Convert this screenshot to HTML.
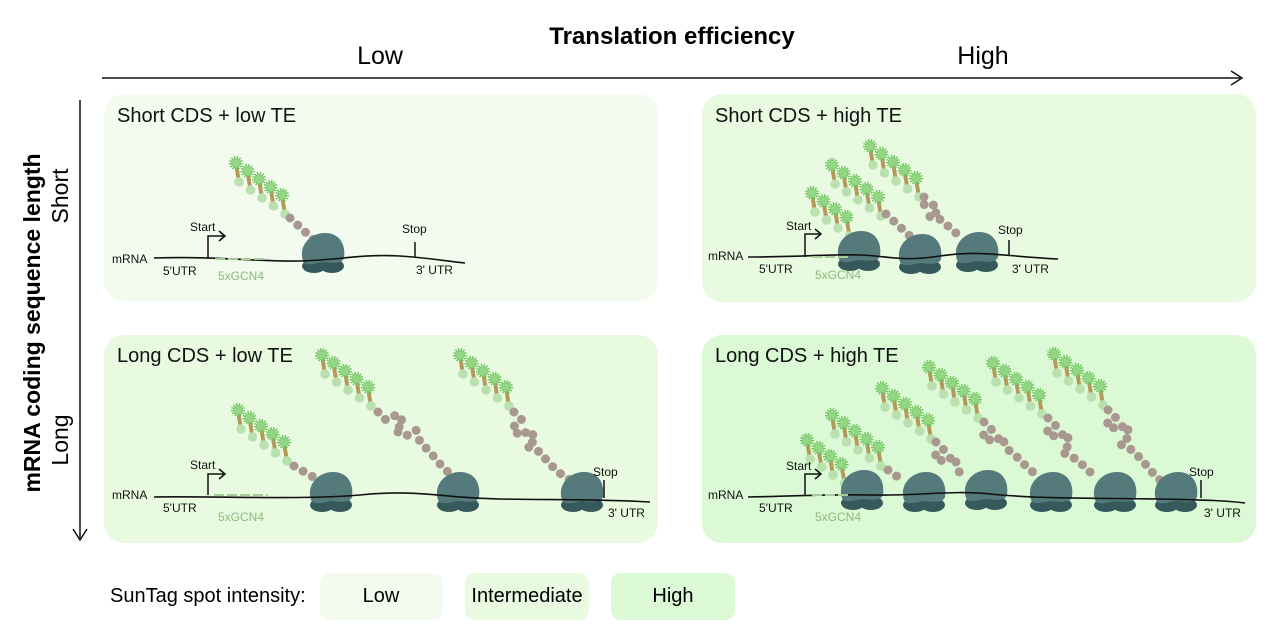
<!DOCTYPE html>
<html><head><meta charset="utf-8"><style>
html,body{margin:0;padding:0;background:#fff;}
svg{display:block;font-family:"Liberation Sans",sans-serif;}
</style></head><body>
<svg width="1267" height="641" viewBox="0 0 1267 641" xmlns="http://www.w3.org/2000/svg">
<defs>
<g id="u">
<path d="M-2,0 L-4.5,-15 L-0.5,-15 L2,0Z" fill="#b39a5c"/>
<circle cx="0" cy="0" r="4.8" fill="#b9e0ae"/>
<circle cx="-3" cy="-19" r="5" fill="#8fd480" stroke="#72c562" stroke-width="4" stroke-dasharray="1.2 1.2"/>
<circle cx="-3" cy="-19" r="4" fill="#93d684"/>
</g>
<g id="t5"><use href="#u"/><use href="#u" x="11.5" y="8"/><use href="#u" x="23" y="16"/><use href="#u" x="34.5" y="24"/><use href="#u" x="46" y="32"/></g>
<g id="t4"><use href="#u"/><use href="#u" x="11.5" y="8"/><use href="#u" x="23" y="16"/><use href="#u" x="34.5" y="24"/></g>
<g id="r">
<ellipse cx="-9" cy="11" rx="12" ry="7" fill="#365a5b"/>
<ellipse cx="9" cy="11" rx="12" ry="7" fill="#365a5b"/>
<path d="M-20,6 C-25,-10 -12,-22 2,-22 C17,-22 23,-10 21,3 C19,9 10,8 0,7 C-10,9 -18,11 -20,6Z" fill="#557a7b"/>
</g>
</defs>
<style>.g{fill:none;stroke:#a89890;stroke-width:9;stroke-linecap:round;stroke-dasharray:0 10.5}.m{fill:none;stroke:#111;stroke-width:1.6}.s{font-size:12px;fill:#111}.gc{font-size:12px;fill:#8bbb79}.ti{font-size:20px;fill:#111}</style>

<text x="672" y="44" text-anchor="middle" font-size="24" font-weight="bold">Translation efficiency</text>
<text x="380" y="64" text-anchor="middle" font-size="25">Low</text>
<text x="983" y="64" text-anchor="middle" font-size="25">High</text>
<line x1="102" y1="78" x2="1240" y2="78" stroke="#111" stroke-width="1.5"/>
<path d="M1231,71 L1242,78 L1231,85" fill="none" stroke="#111" stroke-width="1.5"/>
<line x1="80" y1="100" x2="80" y2="538" stroke="#111" stroke-width="1.5"/>
<path d="M73,529 L80,540 L87,529" fill="none" stroke="#111" stroke-width="1.5"/>
<text transform="translate(40,323) rotate(-90)" text-anchor="middle" font-size="23" font-weight="bold">mRNA coding sequence length</text>
<text transform="translate(68,196) rotate(-90)" text-anchor="middle" font-size="23">Short</text>
<text transform="translate(68,440) rotate(-90)" text-anchor="middle" font-size="23">Long</text>

<rect x="104" y="94" width="554" height="207" rx="20" fill="#f3fbef"/>
<rect x="702" y="94" width="554" height="208" rx="20" fill="#e8fbe1"/>
<rect x="104" y="335" width="554" height="208" rx="20" fill="#e8fbe1"/>
<rect x="702" y="335" width="554" height="208" rx="20" fill="#dbf9d4"/>
<text x="117" y="122" class="ti">Short CDS + low TE</text>
<text x="715" y="122" class="ti">Short CDS + high TE</text>
<text x="117" y="362" class="ti">Long CDS + low TE</text>
<text x="715" y="362" class="ti">Long CDS + high TE</text>

<!-- TL -->
<use href="#t5" x="239" y="182"/>
<polyline class="g" points="290,218 314,240"/>
<use href="#r" x="323" y="255"/>
<path class="m" d="M154,258 C220,256 260,262 300,261 C340,260 360,254 400,256 C430,258 445,261 465,263"/>
<path d="M215,259 L268,259" stroke="#a6cc98" stroke-width="2" stroke-dasharray="10 3" fill="none"/>
<path d="M208,258 V236 H224 M219,231 L225,236 L219,241" fill="none" stroke="#111" stroke-width="1.5"/>
<line x1="415" y1="242" x2="415" y2="257" stroke="#111" stroke-width="1.5"/>
<text x="190" y="231" class="s">Start</text><text x="402" y="233" class="s">Stop</text>
<text x="112" y="263" class="s">mRNA</text><text x="163" y="275" class="s">5'UTR</text>
<text x="218" y="280" class="gc">5xGCN4</text><text x="416" y="274" class="s">3' UTR</text>

<!-- TR -->
<use href="#t4" x="815" y="212"/>
<use href="#t5" x="835" y="184"/>
<polyline class="g" points="886,214 912,238"/>
<use href="#t5" x="873" y="165"/>
<polyline class="g" points="924,197 922,205 932,203 938,212 928,216 942,220 950,228 962,238"/>
<use href="#r" x="859" y="253"/>
<use href="#r" x="920" y="256"/>
<use href="#r" x="977" y="254"/>
<path class="m" d="M748,257 C800,257 830,254 860,255 C890,256 900,262 940,256 C980,250 1000,256 1058,259"/>
<path d="M812,257 L848,257" stroke="#a6cc98" stroke-width="2" stroke-dasharray="10 3" fill="none"/>
<path d="M805,257 V234 H820 M815,229 L821,234 L815,239" fill="none" stroke="#111" stroke-width="1.5"/>
<line x1="1009" y1="240" x2="1009" y2="255" stroke="#111" stroke-width="1.5"/>
<text x="786" y="230" class="s">Start</text><text x="998" y="234" class="s">Stop</text>
<text x="708" y="260" class="s">mRNA</text><text x="759" y="273" class="s">5'UTR</text>
<text x="815" y="279" class="gc">5xGCN4</text><text x="1012" y="273" class="s">3' UTR</text>

<!-- BL -->
<use href="#t5" x="241" y="429"/>
<polyline class="g" points="294,466 322,482"/>
<use href="#t5" x="325" y="374"/>
<polyline class="g" points="378,412 386,420 398,414 404,424 394,430 406,436 416,430 420,442 430,452 440,464 452,476"/>
<use href="#t5" x="463" y="374"/>
<polyline class="g" points="514,412 522,420 512,428 520,436 530,430 536,440 526,446 540,452 548,462 558,472 570,480"/>
<use href="#r" x="331" y="494"/>
<use href="#r" x="458" y="494"/>
<use href="#r" x="582" y="494"/>
<path class="m" d="M154,497 C220,496 300,500 360,495 C420,489 440,498 500,499 C560,500 600,499 650,502"/>
<path d="M214,495 L268,495" stroke="#a6cc98" stroke-width="2" stroke-dasharray="10 3" fill="none"/>
<path d="M208,495 V474 H224 M219,469 L225,474 L219,479" fill="none" stroke="#111" stroke-width="1.5"/>
<line x1="604" y1="480" x2="604" y2="498" stroke="#111" stroke-width="1.5"/>
<text x="190" y="469" class="s">Start</text><text x="593" y="476" class="s">Stop</text>
<text x="112" y="499" class="s">mRNA</text><text x="163" y="512" class="s">5'UTR</text>
<text x="218" y="521" class="gc">5xGCN4</text><text x="608" y="517" class="s">3' UTR</text>

<!-- BR -->
<use href="#t4" x="810" y="459"/>
<use href="#t5" x="835" y="434"/>
<polyline class="g" points="888,470 902,480"/>
<use href="#t5" x="885" y="407"/>
<polyline class="g" points="936,442 944,450 934,456 944,462 954,456 958,468 962,480"/>
<use href="#t5" x="932" y="386"/>
<polyline class="g" points="984,422 992,430 982,436 994,442 1002,436 1006,448 1016,456 1028,468 1040,478"/>
<use href="#t5" x="996" y="382"/>
<polyline class="g" points="1048,418 1056,426 1046,432 1058,438 1066,432 1070,444 1062,452 1074,458 1084,466 1096,478"/>
<use href="#t5" x="1057" y="373"/>
<polyline class="g" points="1108,410 1116,418 1106,424 1118,430 1126,424 1130,436 1120,444 1132,450 1142,460 1150,470 1160,480"/>
<use href="#r" x="862" y="492"/>
<use href="#r" x="924" y="494"/>
<use href="#r" x="986" y="492"/>
<use href="#r" x="1051" y="494"/>
<use href="#r" x="1115" y="494"/>
<use href="#r" x="1176" y="494"/>
<path class="m" d="M748,497 C800,496 830,494 870,495 C920,496 950,490 990,494 C1040,499 1100,498 1160,499 C1200,500 1220,500 1245,503"/>
<path d="M812,495 L848,495" stroke="#a6cc98" stroke-width="2" stroke-dasharray="10 3" fill="none"/>
<path d="M805,495 V474 H820 M815,469 L821,474 L815,479" fill="none" stroke="#111" stroke-width="1.5"/>
<line x1="1201" y1="480" x2="1201" y2="498" stroke="#111" stroke-width="1.5"/>
<text x="786" y="470" class="s">Start</text><text x="1189" y="476" class="s">Stop</text>
<text x="708" y="499" class="s">mRNA</text><text x="759" y="512" class="s">5'UTR</text>
<text x="815" y="521" class="gc">5xGCN4</text><text x="1204" y="517" class="s">3' UTR</text>

<text x="110" y="602" font-size="20">SunTag spot intensity:</text>
<rect x="320" y="573" width="123" height="47" rx="10" fill="#f3fbef"/>
<rect x="465" y="573" width="124" height="47" rx="10" fill="#e8fbe1"/>
<rect x="611" y="573" width="124" height="47" rx="10" fill="#dbf9d4"/>
<text x="381" y="602" text-anchor="middle" font-size="20">Low</text>
<text x="527" y="602" text-anchor="middle" font-size="20">Intermediate</text>
<text x="673" y="602" text-anchor="middle" font-size="20">High</text>
</svg>
</body></html>
